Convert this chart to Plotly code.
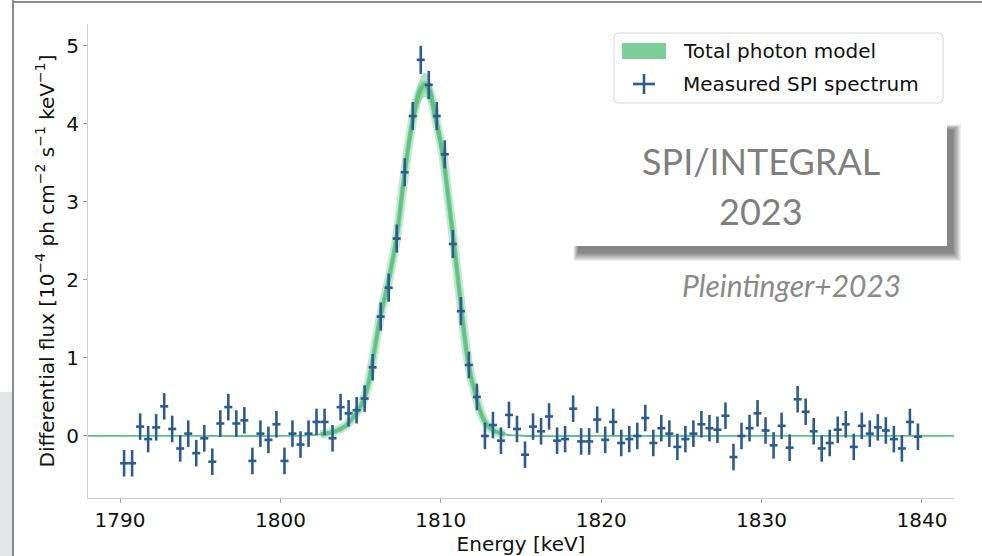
import plotly.graph_objects as go

# ---------------- data ----------------
energy = [1790.25, 1790.75, 1791.25, 1791.75, 1792.25, 1792.75, 1793.25, 1793.75, 1794.25, 1794.75,
          1795.25, 1795.75, 1796.25, 1796.75, 1797.25, 1797.75, 1798.25, 1798.75, 1799.25, 1799.75,
          1800.25, 1800.75, 1801.25, 1801.75, 1802.25, 1802.75, 1803.25, 1803.75, 1804.25, 1804.75,
          1805.25, 1805.75, 1806.25, 1806.75, 1807.25, 1807.75, 1808.25, 1808.75, 1809.25, 1809.75,
          1810.25, 1810.75, 1811.25, 1811.75, 1812.25, 1812.75, 1813.25, 1813.75, 1814.25, 1814.75,
          1815.25, 1815.75, 1816.25, 1816.75, 1817.25, 1817.75, 1818.25, 1818.75, 1819.25, 1819.75,
          1820.25, 1820.75, 1821.25, 1821.75, 1822.25, 1822.75, 1823.25, 1823.75, 1824.25, 1824.75,
          1825.25, 1825.75, 1826.25, 1826.75, 1827.25, 1827.75, 1828.25, 1828.75, 1829.25, 1829.75,
          1830.25, 1830.75, 1831.25, 1831.75, 1832.25, 1832.75, 1833.25, 1833.75, 1834.25, 1834.75,
          1835.25, 1835.75, 1836.25, 1836.75, 1837.25, 1837.75, 1838.25, 1838.75, 1839.25, 1839.75]

flux = [-0.35, -0.35, 0.12, -0.04, 0.11, 0.38, 0.09, -0.16, 0.03, -0.22,
        -0.03, -0.33, 0.16, 0.37, 0.16, 0.20, -0.32, 0.03, -0.05, 0.15,
        -0.32, 0.03, -0.11, 0.03, 0.18, 0.18, -0.03, 0.37, 0.29, 0.33,
        0.48, 0.88, 1.53, 1.90, 2.53, 3.38, 4.10, 4.82, 4.50, 4.10,
        3.61, 2.46, 1.60, 0.91, 0.50, 0.00, 0.14, -0.06, 0.27, 0.09,
        -0.24, 0.12, 0.06, 0.25, -0.06, -0.04, 0.35, -0.07, -0.07, 0.21,
        -0.05, 0.18, -0.09, -0.04, 0.00, 0.23, -0.09, 0.10, 0.03, -0.14,
        -0.04, 0.03, 0.15, 0.10, 0.08, 0.26, -0.27, 0.00, 0.10, 0.29,
        0.07, -0.12, 0.13, -0.15, 0.47, 0.31, 0.06, -0.16, -0.09, 0.08,
        0.15, -0.14, 0.13, 0.03, 0.11, 0.07, -0.04, -0.16, 0.18, -0.01]

flux_err = [0.17, 0.17, 0.17, 0.17, 0.17, 0.17, 0.17, 0.17, 0.17, 0.17,
            0.17, 0.17, 0.17, 0.17, 0.17, 0.17, 0.17, 0.17, 0.17, 0.17,
            0.17, 0.17, 0.17, 0.17, 0.17, 0.17, 0.17, 0.17, 0.17, 0.17,
            0.17, 0.17, 0.18, 0.18, 0.18, 0.18, 0.18, 0.18, 0.18, 0.18,
            0.18, 0.18, 0.18, 0.17, 0.17, 0.17, 0.17, 0.17, 0.17, 0.17,
            0.17, 0.17, 0.17, 0.17, 0.17, 0.17, 0.17, 0.17, 0.17, 0.17,
            0.17, 0.17, 0.17, 0.17, 0.17, 0.17, 0.17, 0.17, 0.17, 0.17,
            0.17, 0.17, 0.17, 0.17, 0.17, 0.17, 0.17, 0.17, 0.17, 0.17,
            0.17, 0.17, 0.17, 0.17, 0.17, 0.17, 0.17, 0.17, 0.17, 0.17,
            0.17, 0.17, 0.17, 0.17, 0.17, 0.17, 0.17, 0.17, 0.17, 0.17]

bin_half_width = 0.25

model_energy = [1788.0, 1795.0, 1800.0, 1801.5, 1802.5, 1803.4, 1804.0, 1804.5, 1805.0, 1805.4,
                1805.72, 1806.23, 1806.7, 1807.23, 1807.7, 1808.0, 1808.35, 1808.7, 1809.0, 1809.3,
                1809.65, 1810.13, 1810.5, 1810.8, 1811.2, 1811.7, 1812.2, 1812.7, 1813.2, 1814.0,
                1815.0, 1820.0, 1830.0, 1842.0]
model_flux = [0.0, 0.0, 0.0, 0.005, 0.02, 0.06, 0.12, 0.23, 0.38, 0.60,
              0.93, 1.53, 1.95, 2.53, 3.30, 3.74, 4.16, 4.42, 4.50, 4.42,
              4.10, 3.60, 3.00, 2.50, 1.78, 0.95, 0.50, 0.20, 0.08, 0.02,
              0.003, 0.0, 0.0, 0.0]
model_rel_err = 0.035

x_ticks = [1790, 1800, 1810, 1820, 1830, 1840]
y_ticks = [0, 1, 2, 3, 4, 5]

legend_labels = ["Total photon model", "Measured SPI spectrum"]

# ---------------- styling ----------------
W, H = 982, 556
L, R, T, B = 88, 954, 24, 498
BLUE = "#2d5b8e"
GREEN_LINE = "#5fc183"
FONT = "DejaVu Sans"


def px(x):
    return (x - L) / (R - L)


def py(y):
    return (B - y) / (B - T)


peak = [i for i, e in enumerate(model_energy) if 1802.4 <= e <= 1814.1]
pk_x = [model_energy[i] for i in peak]
pk_y = [model_flux[i] for i in peak]
pk_hi = [v * (1 + model_rel_err) for v in pk_y]
pk_lo = [v * (1 - model_rel_err) for v in pk_y]

fig = go.Figure()

fig.add_trace(go.Scatter(x=pk_x, y=pk_hi, mode="lines", line=dict(width=0, shape="spline"),
                         hoverinfo="skip", showlegend=False))
fig.add_trace(go.Scatter(x=pk_x, y=pk_lo, mode="lines", line=dict(width=0, shape="spline"),
                         fill="tonexty", fillcolor="rgba(110,205,145,0.55)",
                         hoverinfo="skip", showlegend=False))
fig.add_trace(go.Scatter(x=pk_x, y=pk_y, mode="lines",
                         line=dict(width=9, color="rgba(100,200,135,0.40)", shape="spline"),
                         hoverinfo="skip", showlegend=False))
fig.add_trace(go.Scatter(x=pk_x, y=pk_y, mode="lines",
                         line=dict(width=4.5, color="rgba(75,185,115,0.70)", shape="spline"),
                         hoverinfo="skip", showlegend=False))
fig.add_trace(go.Scatter(x=model_energy, y=model_flux, mode="lines", name=legend_labels[0],
                         line=dict(width=1.8, color=GREEN_LINE, shape="spline", smoothing=0.8),
                         showlegend=False))

fig.add_trace(go.Scatter(
    x=energy, y=flux, mode="markers", name=legend_labels[1],
    marker=dict(size=2, color=BLUE),
    error_y=dict(type="data", array=flux_err, visible=True, thickness=2.6, width=0, color=BLUE),
    error_x=dict(type="constant", value=bin_half_width, visible=True, thickness=2.6, width=0, color=BLUE),
    showlegend=False))

shapes = []
annotations = []

# slide frame
shapes.append(dict(type="rect", xref="paper", yref="paper", x0=px(0), x1=px(12), y0=py(556), y1=py(392),
                   fillcolor="#e2e5e5", line=dict(width=0), layer="below"))
shapes.append(dict(type="line", xref="paper", yref="paper", x0=px(13), x1=px(13), y0=py(0), y1=py(556),
                   line=dict(color="#8c8c8c", width=2)))
shapes.append(dict(type="line", xref="paper", yref="paper", x0=px(13), x1=px(982), y0=py(2), y1=py(2),
                   line=dict(color="#8c8c8c", width=2)))

# legend (manual)
lx0, ly0, lx1, ly1, r = 614, 33, 943, 103, 4
rx, ry = r / (R - L), r / (B - T)
X0, X1, Y0, Y1 = px(lx0), px(lx1), py(ly0), py(ly1)
path = (f"M{X0 + rx},{Y0} L{X1 - rx},{Y0} Q{X1},{Y0} {X1},{Y0 - ry} "
        f"L{X1},{Y1 + ry} Q{X1},{Y1} {X1 - rx},{Y1} L{X0 + rx},{Y1} Q{X0},{Y1} {X0},{Y1 + ry} "
        f"L{X0},{Y0 - ry} Q{X0},{Y0} {X0 + rx},{Y0} Z")
shapes.append(dict(type="path", xref="paper", yref="paper", path=path, fillcolor="rgba(255,255,255,0.85)",
                   line=dict(color="#d9d9d9", width=1), layer="above"))
shapes.append(dict(type="rect", xref="paper", yref="paper", x0=px(622), x1=px(666), y0=py(59), y1=py(43),
                   fillcolor="#7dcf9a", line=dict(width=0), layer="above"))
shapes.append(dict(type="line", xref="paper", yref="paper", x0=px(633), x1=px(655), y0=py(84), y1=py(84),
                   line=dict(color=BLUE, width=2.6), layer="above"))
shapes.append(dict(type="line", xref="paper", yref="paper", x0=px(644), x1=px(644), y0=py(74), y1=py(94),
                   line=dict(color=BLUE, width=2.6), layer="above"))
annotations.append(dict(xref="paper", yref="paper", x=px(681), y=py(51), xanchor="left", yanchor="middle",
                        text=legend_labels[0], showarrow=False, font=dict(family=FONT, size=20, color="#111111")))
annotations.append(dict(xref="paper", yref="paper", x=px(681), y=py(84), xanchor="left", yanchor="middle",
                        text=legend_labels[1], showarrow=False, font=dict(family=FONT, size=20, color="#111111")))

# SPI/INTEGRAL box with shadow
bx0, by0, bx1, by1 = 573, 123, 947, 246
for i in range(1, 10):
    shapes.append(dict(type="rect", xref="paper", yref="paper",
                       x0=px(bx0 + 6 - i * 0.6), x1=px(bx1 + 5 + i), y0=py(by1 + 6 + i), y1=py(by0 + 7 - i * 0.6),
                       fillcolor="rgba(0,0,0,0.065)", line=dict(width=0), layer="above"))
shapes.append(dict(type="rect", xref="paper", yref="paper", x0=px(bx0), x1=px(bx1), y0=py(by1), y1=py(by0),
                   fillcolor="white", line=dict(width=0), layer="above"))
annotations.append(dict(xref="paper", yref="paper", x=px(761), y=py(161), xanchor="center", yanchor="middle",
                        text="SPI/INTEGRAL", showarrow=False, font=dict(family="Lato", size=36, color="#7f7f7f")))
annotations.append(dict(xref="paper", yref="paper", x=px(761), y=py(211), xanchor="center", yanchor="middle",
                        text="2023", showarrow=False, font=dict(family="Lato", size=36, color="#7f7f7f")))
annotations.append(dict(xref="paper", yref="paper", x=px(791), y=py(285), xanchor="center", yanchor="middle",
                        text="<i>Pleintinger+2023</i>", showarrow=False,
                        font=dict(family="Lato", size=30, color="#8a8a8a")))

axis_common = dict(showline=True, linecolor="#cfcfcf", linewidth=1, mirror=False, showgrid=False,
                   zeroline=False, ticks="outside", ticklen=4, tickwidth=1, tickcolor="#a0a0a0",
                   automargin=False,
                   tickfont=dict(family=FONT, size=20, color="#111111"))

fig.update_layout(
    width=W, height=H,
    margin=dict(l=L, r=W - R, t=T, b=H - B, autoexpand=False),
    paper_bgcolor="white", plot_bgcolor="white",
    showlegend=False,
    xaxis=dict(range=[1788, 1842], tickvals=x_ticks, ticktext=[str(v) for v in x_ticks],
               title=dict(text="Energy [keV]", font=dict(family=FONT, size=20, color="#111111"), standoff=0),
               **axis_common),
    yaxis=dict(range=[-0.795, 5.28], tickvals=y_ticks, ticktext=[str(v) for v in y_ticks],
               title=dict(text="Differential flux [10<sup>−4</sup> ph cm<sup>−2</sup> s<sup>−1</sup> keV<sup>−1</sup>]",
                          font=dict(family=FONT, size=20, color="#111111"), standoff=6),
               **axis_common),
    shapes=shapes,
    annotations=annotations,
)

fig.write_html("out.html", config={"displayModeBar": False},
               post_script="document.body.style.margin='0';document.body.style.overflow='hidden';")
